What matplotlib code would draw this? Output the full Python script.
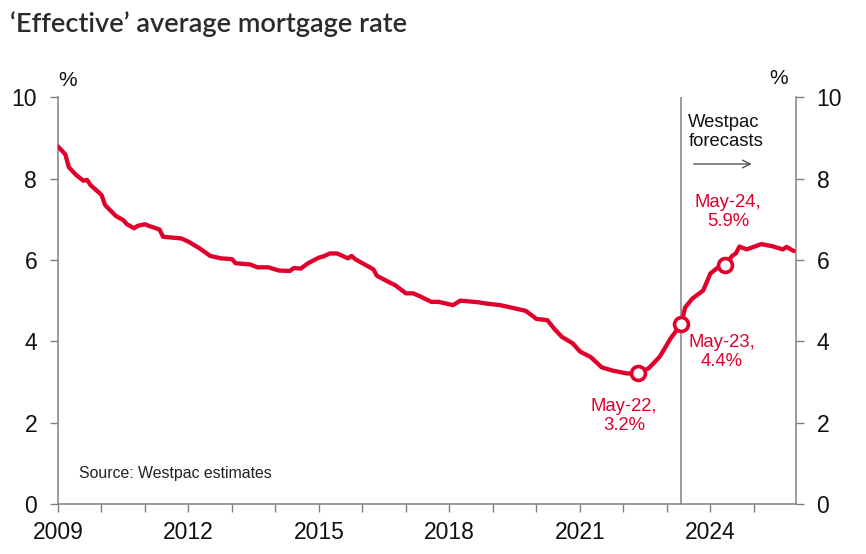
import matplotlib
matplotlib.use("Agg")
import matplotlib.pyplot as plt

# ---- data ----
months = ["2009-01", "2009-03", "2009-04", "2009-06", "2009-08", "2009-09", "2009-10",
          "2010-01", "2010-02", "2010-05", "2010-07", "2010-08", "2010-10", "2010-11",
          "2011-01", "2011-02", "2011-05", "2011-06", "2011-11", "2012-01", "2012-04",
          "2012-07", "2012-10", "2013-01", "2013-02", "2013-06", "2013-08", "2013-11",
          "2014-02", "2014-05", "2014-06", "2014-08", "2014-10", "2015-01", "2015-02",
          "2015-04", "2015-06", "2015-09", "2015-10", "2015-11", "2016-01", "2016-04",
          "2016-05", "2016-08", "2016-10", "2017-01", "2017-03", "2017-05", "2017-08",
          "2017-10", "2018-02", "2018-04", "2018-09", "2018-11", "2019-03", "2019-07",
          "2019-10", "2019-12", "2020-01", "2020-04", "2020-06", "2020-08", "2020-11",
          "2021-01", "2021-04", "2021-07", "2021-10", "2022-02", "2022-05", "2022-08",
          "2022-11", "2023-02", "2023-05", "2023-06", "2023-08", "2023-11", "2024-01",
          "2024-03", "2024-05", "2024-07", "2024-08", "2024-09", "2024-11", "2025-03",
          "2025-06", "2025-09", "2025-10", "2025-12"]
rates = [8.79, 8.60, 8.28, 8.09, 7.95, 7.97, 7.84,
         7.60, 7.35, 7.08, 6.98, 6.88, 6.78, 6.84,
         6.88, 6.84, 6.75, 6.57, 6.53, 6.45, 6.29,
         6.10, 6.04, 6.02, 5.92, 5.89, 5.82, 5.82,
         5.74, 5.73, 5.80, 5.79, 5.92, 6.06, 6.08,
         6.16, 6.16, 6.04, 6.10, 6.02, 5.92, 5.77,
         5.61, 5.47, 5.38, 5.18, 5.18, 5.10, 4.97,
         4.97, 4.89, 5.00, 4.96, 4.93, 4.89, 4.81,
         4.75, 4.62, 4.55, 4.52, 4.30, 4.11, 3.95,
         3.75, 3.61, 3.36, 3.28, 3.21, 3.21, 3.34,
         3.62, 4.07, 4.43, 4.83, 5.05, 5.25, 5.67,
         5.81, 5.88, 6.10, 6.16, 6.33, 6.26, 6.39,
         6.34, 6.26, 6.32, 6.22]

highlight_months = ["2022-05", "2023-05", "2024-05"]
highlight_labels = ["May-22,\n3.2%", "May-23,\n4.4%", "May-24,\n5.9%"]
forecast_start = "2023-05"

x_tick_years = [2009, 2012, 2015, 2018, 2021, 2024]
y_ticks = [0, 2, 4, 6, 8, 10]


def to_dec(m):
    y, mo = m.split("-")
    return int(y) + (int(mo) - 1) / 12.0


xs = [to_dec(m) for m in months]
hx = [to_dec(m) for m in highlight_months]
hy = [rates[months.index(m)] for m in highlight_months]

RED = "#E0002B"
GREY = "#808080"
SANS = ["Liberation Sans", "DejaVu Sans"]
W, H = 866, 554

fig = plt.figure(figsize=(W / 100, H / 100), dpi=100)
ax = fig.add_axes([58 / W, 1 - 504 / H, (795.7 - 58) / W, (504 - 97.3) / H])

ax.plot(xs, rates, color=RED, lw=3.1, solid_capstyle="round", solid_joinstyle="round", zorder=3)
ax.plot(hx, hy, linestyle="none", marker="o", ms=10, mew=2.6, mfc="white", mec=RED, zorder=4)

ax.axvline(to_dec(forecast_start), color=GREY, lw=1.1, zorder=2)

ax.set_xlim(2009.0, 2025.96)
ax.set_ylim(0, 10)

ax.set_xticks(x_tick_years)
ax.set_xticklabels([str(y) for y in x_tick_years])
ax.set_xticks(list(range(2009, 2026)), minor=True)
ax.set_yticks(y_ticks)
ax.set_yticklabels([str(v) for v in y_ticks])

for side in ["left", "right", "bottom"]:
    ax.spines[side].set_color(GREY)
    ax.spines[side].set_linewidth(1.1)
ax.spines["top"].set_visible(False)

ax.tick_params(axis="both", which="both", direction="out", color=GREY, width=1.0,
               length=6, labelsize=16.5, labelcolor="#111111")
ax.tick_params(axis="y", left=True, right=True, labelleft=True, labelright=True, pad=9)
ax.tick_params(axis="x", which="both", pad=6)
for lab in ax.get_xticklabels() + ax.get_yticklabels():
    lab.set_fontfamily(SANS)
for t in ax.yaxis.get_major_ticks():
    t.label2.set_fontfamily(SANS)

# annotations
label_pos = [(2022.01, 2.16), (2024.26, 3.73), (2024.41, 7.19)]
for (lx, ly), txt in zip(label_pos, highlight_labels):
    ax.text(lx, ly, txt, color=RED, ha="center", va="center", fontsize=13.3,
            family=SANS, linespacing=1.15)

ax.text(2023.49, 9.15, "Westpac\nforecasts", color="#111111", ha="left", va="center",
        fontsize=13.3, family=SANS, linespacing=1.15)
ax.annotate("", xy=(2025.01, 8.36), xytext=(2023.55, 8.36),
            arrowprops=dict(arrowstyle="->", color="#444444", lw=0.9, mutation_scale=14))

ax.text(2009.49, 0.755, "Source: Westpac estimates", color="#222222", ha="left", va="center",
        fontsize=11.4, family=SANS)

fig.text(68 / W, 1 - 80 / H, "%", ha="center", va="center", fontsize=15,
         family=SANS, color="#111111")
fig.text(779 / W, 1 - 78 / H, "%", ha="center", va="center", fontsize=15,
         family=SANS, color="#111111")

fig.text(10 / W, 1 - 24 / H, "\u2018Effective\u2019 average mortgage rate", ha="left", va="center",
         fontsize=19.6, fontweight="semibold", family=["Lato", "DejaVu Sans"], color="#2b2b2b")

fig.savefig("out.png", dpi=100, facecolor="white")
